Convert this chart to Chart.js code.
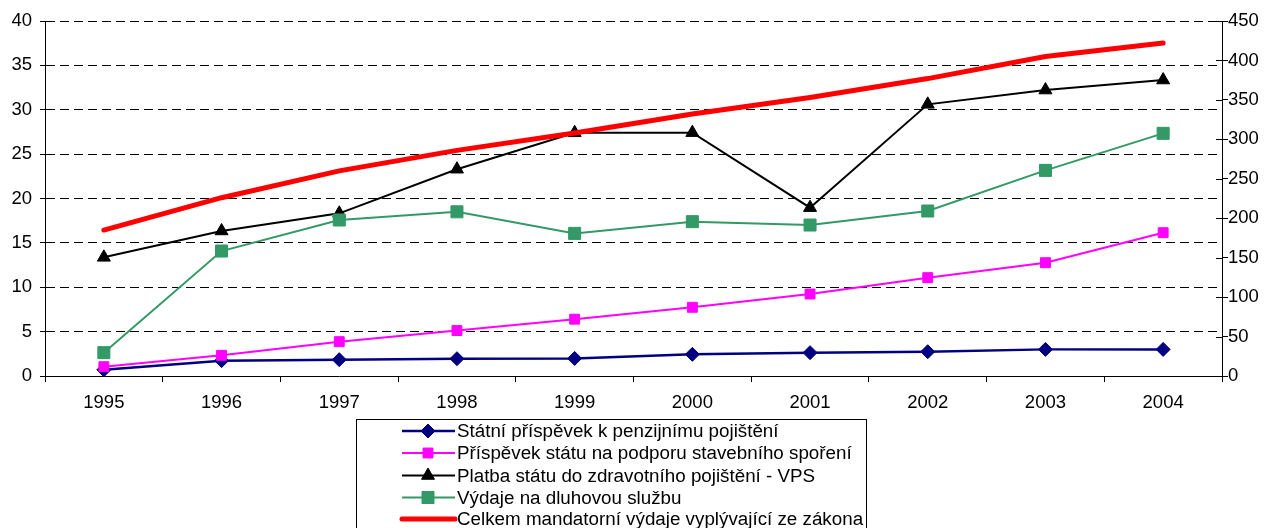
<!DOCTYPE html>
<html><head><meta charset="utf-8">
<script src="https://cdn.jsdelivr.net/npm/chart.js@4"></script>
<style>html,body{margin:0;padding:0;background:#fff;}#wrap{width:1268px;height:528px;position:relative;}</style>
</head><body><div id="wrap"><canvas id="c" width="1268" height="528"></canvas></div>
<script>
const years = ['1995','1996','1997','1998','1999','2000','2001','2002','2003','2004'];
const pensionContrib = [0.7, 1.73, 1.84, 1.95, 1.98, 2.44, 2.63, 2.74, 3.0, 3.0];
const savingsContrib = [1.05, 2.33, 3.87, 5.12, 6.4, 7.74, 9.24, 11.08, 12.77, 16.15];
const healthPayment = [13.37, 16.34, 18.33, 23.3, 27.4, 27.42, 18.97, 30.61, 32.22, 33.35];
const debtService = [2.63, 14.08, 17.58, 18.5, 16.07, 17.39, 17.01, 18.59, 23.17, 27.34];
const totalMandatory = [185, 226, 260, 286, 308, 332, 353, 377, 405, 422];
const seriesNames = [
  'Státní příspěvek k penzijnímu pojištění',
  'Příspěvek státu na podporu stavebního spoření',
  'Platba státu do zdravotního pojištění - VPS',
  'Výdaje na dluhovou službu',
  'Celkem mandatorní výdaje vyplývající ze zákona'
];
const leftTicks = [0,5,10,15,20,25,30,35,40];
const rightTicks = [0,50,100,150,200,250,300,350,400,450];

const FONT = {family: 'Arial, "Liberation Sans", sans-serif', size: 18.5};
const styles = [
  {color:'#000080', pointStyle:'rectRot', r:7, width:2.5},
  {color:'#FF00FF', pointStyle:'rect', r:7, width:2},
  {color:'#000000', pointStyle:'triangle', r:7.5, width:2},
  {color:'#339966', pointStyle:'rect', r:8.5, width:2},
  {color:'#FF0000', pointStyle:false, r:0, width:5}
];
const seriesData = [pensionContrib, savingsContrib, healthPayment, debtService, totalMandatory];

const datasets = seriesData.map((d, i) => ({
  label: seriesNames[i],
  data: d,
  yAxisID: i === 4 ? 'y1' : 'y',
  borderColor: styles[i].color,
  backgroundColor: styles[i].color,
  borderWidth: styles[i].width,
  pointStyle: styles[i].pointStyle,
  pointRadius: styles[i].r,
  pointBorderWidth: 1,
  pointBorderColor: styles[i].color,
  pointBackgroundColor: styles[i].color,
  borderCapStyle: 'round',
  tension: 0,
  order: 5 - i
}));

function drawMarker(ctx, style, x, y, r, color) {
  if (!style) return;
  ctx.save();
  ctx.fillStyle = color; ctx.strokeStyle = color; ctx.lineWidth = 1;
  ctx.beginPath();
  if (style === 'rect') {
    const h = r * Math.SQRT1_2;
    ctx.rect(x - h, y - h, 2*h, 2*h);
  } else if (style === 'rectRot') {
    ctx.moveTo(x, y - r); ctx.lineTo(x + r, y); ctx.lineTo(x, y + r); ctx.lineTo(x - r, y); ctx.closePath();
  } else if (style === 'triangle') {
    ctx.moveTo(x, y - r);
    ctx.lineTo(x + r*Math.sin(Math.PI/3), y + r/2);
    ctx.lineTo(x - r*Math.sin(Math.PI/3), y + r/2);
    ctx.closePath();
  }
  ctx.fill(); ctx.stroke();
  ctx.restore();
}

const boxLegend = {
  id: 'boxLegend',
  afterDraw(chart) {
    const ctx = chart.ctx;
    ctx.save();
    ctx.strokeStyle = '#000'; ctx.lineWidth = 1;
    ctx.strokeRect(356.5, 419.5, 510, 140);
    const rowY = [431, 453, 475.5, 497.5, 519];
    ctx.font = '18.8px Arial, "Liberation Sans", sans-serif';
    ctx.textBaseline = 'middle';
    ctx.fillStyle = '#000';
    seriesNames.forEach((name, i) => {
      const y = rowY[i];
      ctx.save();
      ctx.strokeStyle = styles[i].color;
      ctx.lineWidth = styles[i].width;
      ctx.lineCap = i === 4 ? 'round' : 'butt';
      ctx.beginPath(); ctx.moveTo(402, y); ctx.lineTo(455, y); ctx.stroke();
      ctx.restore();
      drawMarker(ctx, styles[i].pointStyle, 428, y, styles[i].r, styles[i].color);
      ctx.fillStyle = '#000';
      ctx.fillText(name, 457, y + 1);
    });
    // inward tick marks on right axis
    const y1 = chart.scales.y1;
    ctx.strokeStyle = '#000'; ctx.lineWidth = 1;
    rightTicks.forEach(v => {
      const py = Math.round(y1.getPixelForValue(v)) + 0.5;
      ctx.beginPath(); ctx.moveTo(y1.left - 6, py); ctx.lineTo(y1.left, py); ctx.stroke();
    });
    ctx.restore();
  }
};

new Chart(document.getElementById('c'), {
  type: 'line',
  data: { labels: years, datasets },
  options: {
    responsive: false,
    animation: false,
    events: [],
    layout: { padding: { top: 21, left: 0, right: 0, bottom: 0 } },
    plugins: { legend: { display: false }, tooltip: { enabled: false } },
    scales: {
      x: {
        type: 'category',
        offset: true,
        grid: { offset: true, drawOnChartArea: false, drawTicks: true, tickLength: 6, color: '#000', tickColor: '#000', tickBorderDash: [] },
        border: { display: true, color: '#000', width: 1 },
        ticks: { color: '#000', font: FONT, padding: 10, maxRotation: 0, autoSkip: false },
        afterFit(s) { s.height = 152; }
      },
      y: {
        position: 'left',
        min: 0, max: 40,
        afterBuildTicks(s) { s.ticks = leftTicks.map(v => ({value: v})); },
        grid: { drawOnChartArea: true, color: '#000', tickColor: '#000', tickLength: 5, tickBorderDash: [], lineWidth: 1 },
        border: { display: true, color: '#000', width: 1, dash: [9, 5] },
        ticks: { color: '#000', font: FONT, padding: 8 },
        afterFit(s) { s.width = 45; }
      },
      y1: {
        position: 'right',
        min: 0, max: 450,
        afterBuildTicks(s) { s.ticks = rightTicks.map(v => ({value: v})); },
        grid: { drawOnChartArea: false, color: '#000', tickColor: '#000', tickLength: 6, tickBorderDash: [] },
        border: { display: true, color: '#000', width: 1 },
        ticks: { color: '#000', font: FONT, padding: 0 },
        afterFit(s) { s.width = 46; }
      }
    }
  },
  plugins: [boxLegend]
});
</script>
</body></html>
